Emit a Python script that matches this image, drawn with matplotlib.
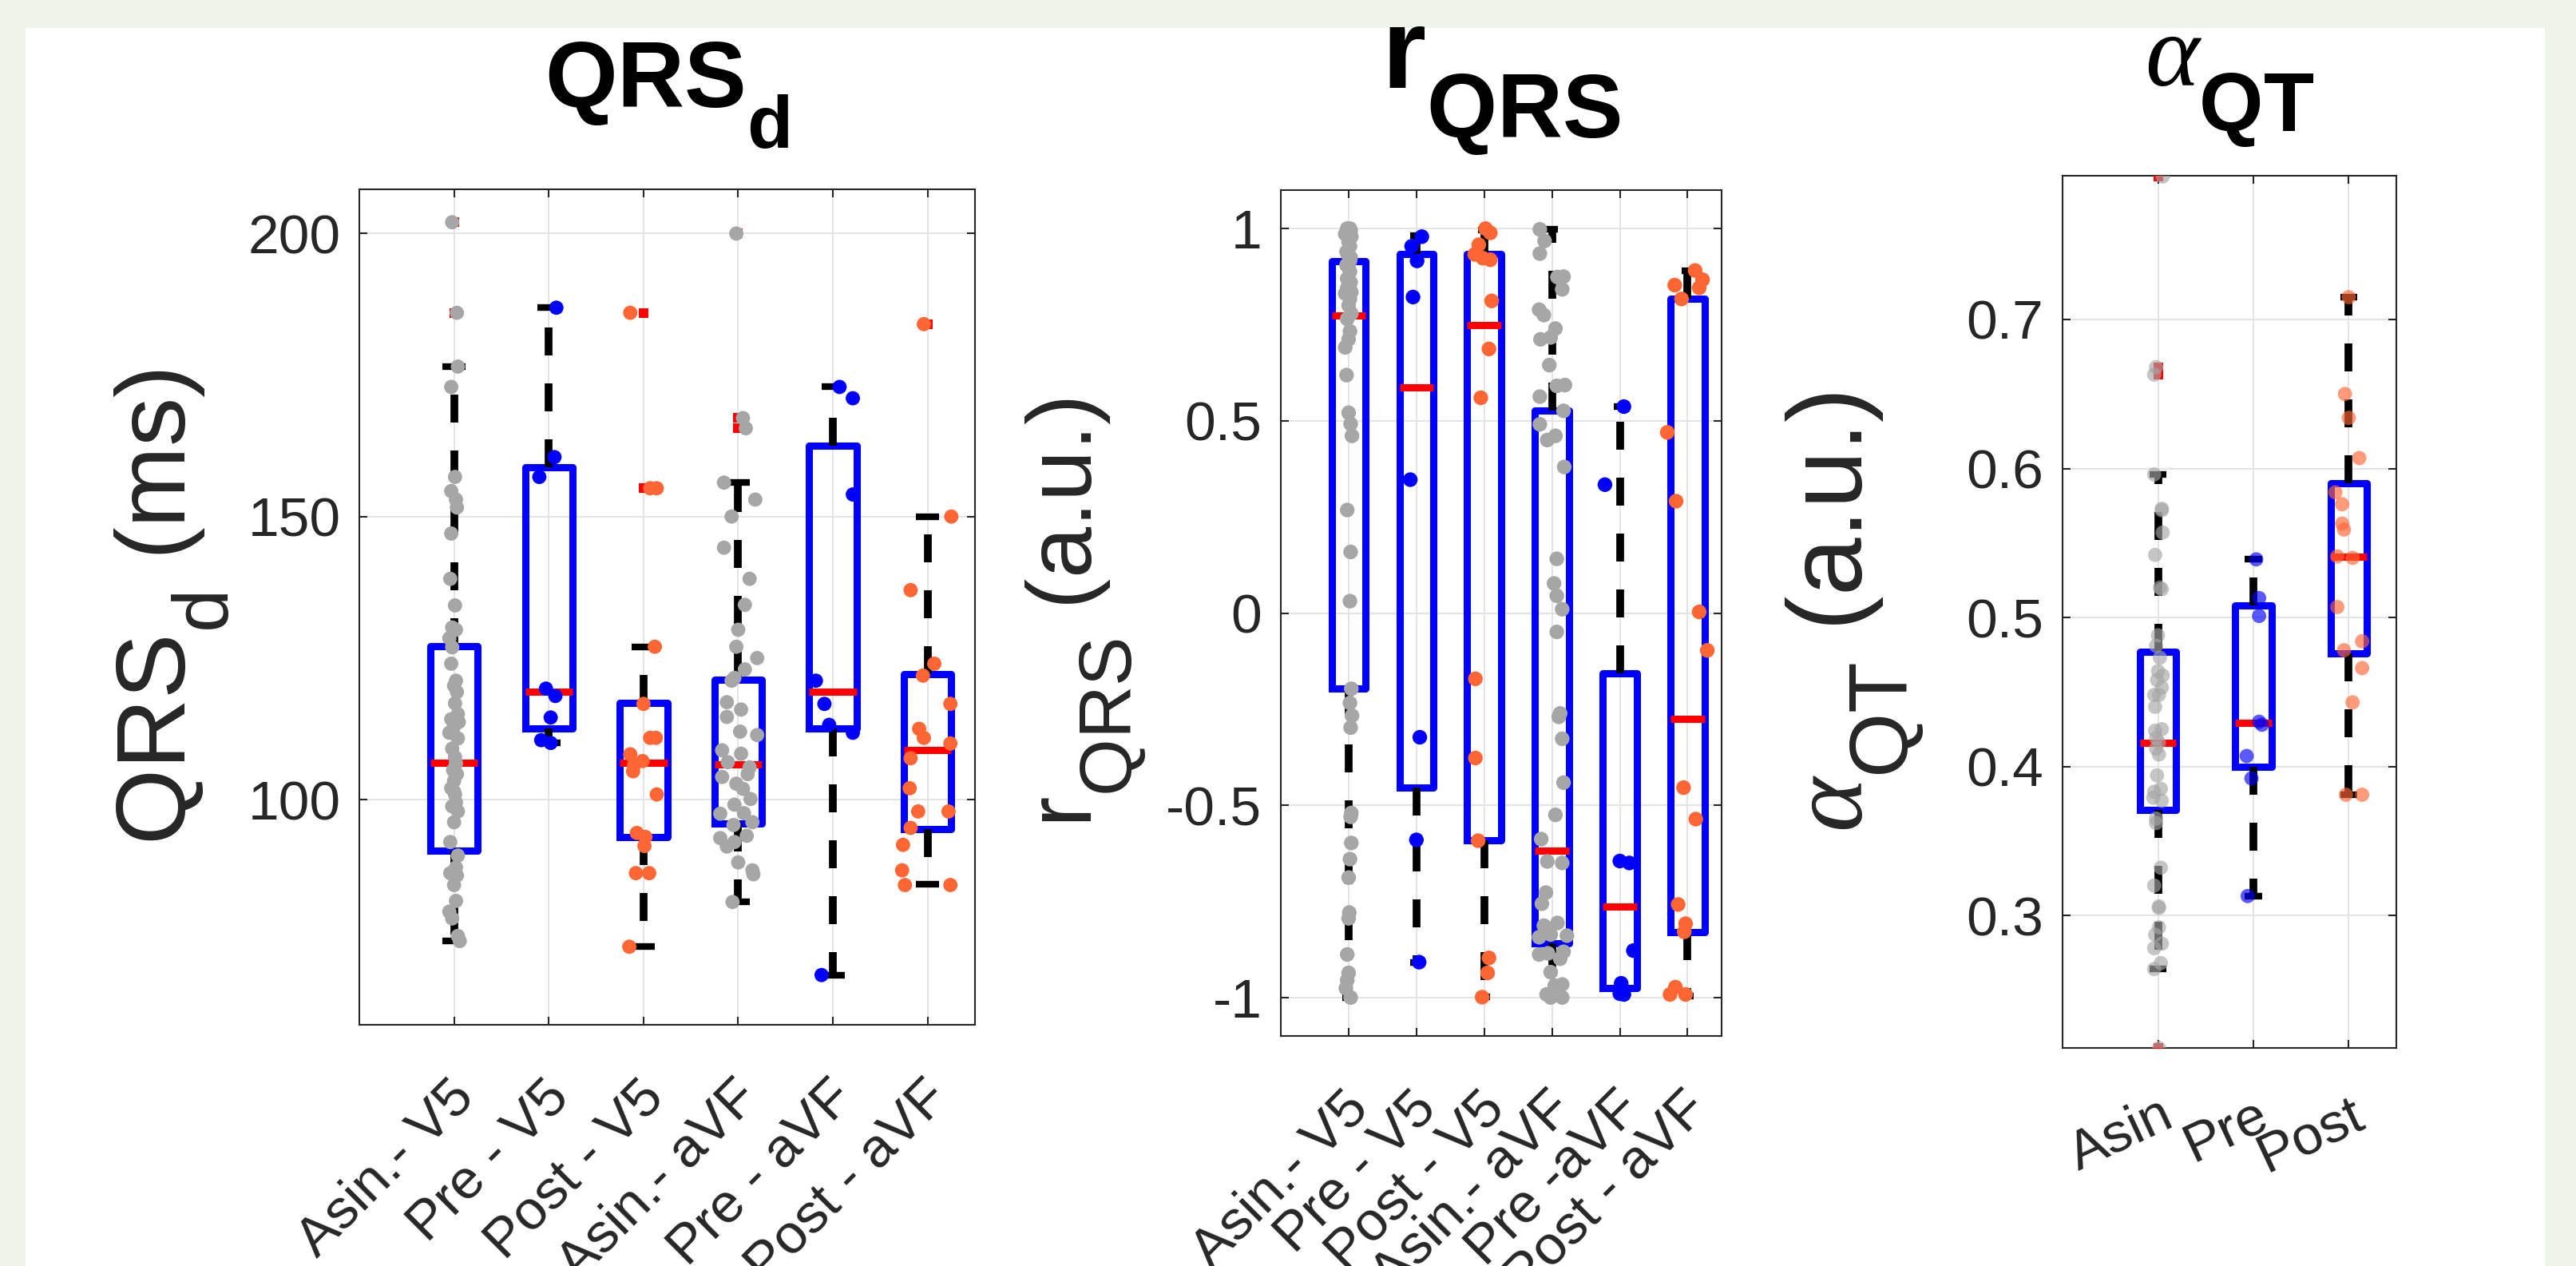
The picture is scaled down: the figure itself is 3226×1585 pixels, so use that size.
import matplotlib
matplotlib.use('Agg')
import matplotlib.pyplot as plt
import matplotlib._mathtext as mtext
from matplotlib.patches import Rectangle
from matplotlib.transforms import ScaledTranslation

plt.rcParams['font.family'] = ['Liberation Sans', 'DejaVu Sans']
plt.rcParams['mathtext.fontset'] = 'custom'
plt.rcParams['mathtext.rm'] = 'Liberation Sans'
plt.rcParams['mathtext.bf'] = 'Liberation Sans:bold'
plt.rcParams['mathtext.it'] = 'Liberation Serif:italic'
plt.rcParams['axes.unicode_minus'] = False
# subindices como los de MATLAB: mas grandes y mas bajos
mtext.SHRINK_FACTOR = 0.8
mtext.FontConstantsBase.sub1 = 0.95

GRIS = '#a6a6a6'
AZUL = '#0000ff'
NARANJA = '#ff6633'
EJES = '#262626'

# ---------------- QRSd (ms) ----------------
qrs_etiq = ['Asin.- V5', 'Pre - V5', 'Post - V5', 'Asin.- aVF', 'Pre - aVF', 'Post - aVF']
qrs_col = [GRIS, AZUL, NARANJA, GRIS, AZUL, NARANJA]
qrs_q1 = [91.0, 112.5, 93.4, 95.8, 112.5, 94.8]
qrs_med = [106.5, 119.0, 106.5, 106.2, 119.0, 108.7]
qrs_q3 = [127.1, 158.7, 117.1, 121.2, 162.5, 122.2]
qrs_wlo = [75.0, 110.0, 74.0, 81.9, 69.0, 85.0]
qrs_whi = [176.5, 186.9, 127.0, 156.0, 172.9, 150.0]
qrs_atip = [[202.0, 186.0], [], [186.0, 155.0, 155.0], [200.0, 167.4, 165.6], [], [184.0]]
qrs_vals = [
    [202.0, 186.0, 176.5, 172.9, 157.0, 154.5, 153.0, 151.6, 147.0, 139.0,
     134.3, 130.4, 130.0, 128.5, 126.9, 124.0, 121.0, 120.1, 117.0, 115.1,
     114.2, 113.7, 111.8, 110.8, 109.0, 107.5, 106.4, 105.2, 103.3, 101.4,
     100.9, 98.8, 97.9, 96.0, 92.5, 90.1, 88.0, 87.0, 86.6, 84.9,
     82.1, 80.2, 79.0, 75.9, 75.0, 119.0, 112.5, 104.5, 102.0, 99.5],
    [186.9, 160.5, 157.0, 119.6, 118.3, 114.5, 110.5, 110.0],
    [186.0, 155.0, 155.0, 127.0, 116.9, 110.9, 110.9, 108.0, 106.8, 106.1,
     105.0, 100.9, 94.1, 93.4, 91.8, 87.0, 87.0, 74.0],
    [200.0, 167.4, 165.6, 156.0, 153.0, 150.0, 144.5, 139.0, 134.4, 130.0,
     127.0, 125.0, 123.0, 121.5, 121.0, 117.2, 115.9, 114.6, 112.0, 111.4,
     108.7, 108.1, 106.6, 105.7, 104.5, 104.0, 102.8, 101.9, 100.1, 99.1,
     97.5, 97.6, 96.0, 95.5, 93.6, 93.2, 92.5, 91.7, 88.9, 87.5,
     86.8, 81.9],
    [172.9, 170.9, 153.9, 121.0, 116.9, 113.2, 111.8, 69.0],
    [184.0, 150.0, 137.0, 124.0, 121.9, 116.9, 112.5, 110.9, 109.9, 107.3,
     102.0, 97.9, 97.9, 95.0, 92.0, 87.5, 84.9, 84.9],
]
qrs_dx = [
    [-0.02, 0.03, 0.04, -0.03, 0.01, -0.03, 0.02, 0.03, -0.03, -0.04,
     0.01, -0.02, 0.02, -0.05, -0.02, -0.03, 0.02, 0.0, 0.01, 0.04,
     -0.03, 0.05, -0.05, 0.04, -0.02, 0.01, 0.02, -0.01, 0.0, 0.0,
     0.01, -0.02, 0.04, 0.0, -0.04, 0.04, 0.02, -0.04, 0.03, 0.0,
     0.02, -0.05, -0.02, 0.04, 0.06, 0.03, -0.01, 0.03, -0.03, 0.02],
    [0.08, 0.06, -0.10, -0.03, 0.07, 0.02, -0.08, 0.02],
    [-0.14, 0.07, 0.14, 0.12, 0.0, 0.07, 0.13, -0.14, -0.01, -0.10,
     -0.11, 0.14, -0.07, 0.02, 0.01, -0.08, 0.06, -0.15],
    [-0.02, 0.05, 0.08, -0.15, 0.18, -0.07, -0.15, 0.12, 0.07, 0.0,
     -0.02, 0.20, 0.07, -0.04, -0.07, -0.12, 0.03, -0.12, 0.02, 0.20,
     -0.17, 0.03, -0.11, 0.12, 0.10, -0.17, -0.02, 0.05, 0.13, -0.04,
     -0.19, 0.06, 0.15, -0.05, 0.09, -0.19, -0.04, -0.12, 0.0, 0.15,
     0.16, -0.06],
    [0.07, 0.21, 0.21, -0.18, -0.09, -0.04, 0.21, -0.12],
    [-0.04, 0.25, -0.18, 0.07, -0.05, 0.24, -0.09, -0.04, 0.24, -0.18,
     -0.19, -0.10, 0.22, -0.18, -0.26, -0.27, -0.24, 0.24],
]

# ---------------- rQRS (a.u.) ----------------
r_etiq = ['Asin.- V5', 'Pre - V5', 'Post - V5', 'Asin.- aVF', 'Pre -aVF', 'Post - aVF']
r_col = [GRIS, AZUL, NARANJA, GRIS, AZUL, NARANJA]
r_q1 = [-0.197, -0.453, -0.590, -0.860, -0.976, -0.829]
r_med = [0.775, 0.586, 0.749, -0.617, -0.764, -0.275]
r_q3 = [0.916, 0.933, 0.933, 0.526, -0.156, 0.817]
r_wlo = [-1.0, -0.908, -0.999, -1.0, -0.992, -0.996]
r_whi = [1.0, 0.982, 0.996, 0.998, 0.537, 0.891]
r_atip = [[], [], [], [], [], []]
r_vals = [
    [1.0, 1.0, 0.986, 0.979, 0.965, 0.954, 0.933, 0.916, 0.898, 0.888,
     0.870, 0.856, 0.831, 0.835, 0.817, 0.779, 0.765, 0.733, 0.712, 0.691,
     0.619, 0.521, 0.492, 0.461, 0.268, 0.159, 0.031, -0.197, -0.234, -0.267,
     -0.298, -0.520, -0.530, -0.598, -0.640, -0.688, -0.779, -0.794, -0.888, -0.936,
     -0.955, -0.976, -1.0, 0.995, 0.990, 0.975, 0.940, 0.925, 0.905, 0.860,
     0.845, 0.800],
    [0.979, 0.954, 0.916, 0.822, 0.347, -0.323, -0.590, -0.908],
    [1.0, 0.989, 0.958, 0.933, 0.923, 0.919, 0.812, 0.687, 0.560, -0.171,
     -0.377, -0.592, -0.897, -0.936, -0.999],
    [0.998, 0.968, 0.935, 0.874, 0.875, 0.842, 0.789, 0.775, 0.740, 0.712,
     0.717, 0.645, 0.591, 0.593, 0.563, 0.526, 0.491, 0.450, 0.461, 0.380,
     0.141, 0.077, 0.045, 0.010, -0.049, -0.261, -0.270, -0.327, -0.441, -0.525,
     -0.588, -0.646, -0.650, -0.727, -0.756, -0.806, -0.813, -0.836, -0.839, -0.843,
     -0.881, -0.885, -0.888, -0.899, -0.934, -0.966, -0.969, -0.992, -1.0, -1.0],
    [0.537, 0.334, -0.645, -0.650, -0.878, -0.963, -0.990, -0.992],
    [0.891, 0.867, 0.846, 0.853, 0.817, 0.470, 0.291, 0.003, -0.097, -0.454,
     -0.536, -0.758, -0.808, -0.829, -0.973, -0.992, -0.992],
]
r_dx = [
    [-0.02, 0.02, -0.05, 0.04, 0.0, 0.02, -0.01, 0.02, 0.0, 0.02,
     -0.02, 0.0, -0.05, 0.04, 0.02, 0.04, -0.02, 0.02, 0.0, -0.05,
     -0.03, 0.0, 0.03, 0.05, -0.02, 0.03, 0.02, 0.04, 0.02, 0.05,
     0.03, 0.04, 0.03, 0.04, 0.02, 0.0, 0.01, 0.0, -0.02, 0.0,
     -0.02, -0.04, 0.03, 0.03, -0.03, 0.01, -0.03, 0.03, -0.03, 0.03,
     -0.02, 0.0],
    [0.08, -0.07, 0.01, -0.05, -0.09, 0.05, 0.0, 0.04],
    [0.02, 0.09, -0.08, -0.14, -0.02, 0.09, 0.11, 0.07, -0.05, -0.13,
     -0.13, -0.09, 0.07, 0.05, -0.03],
    [-0.18, -0.11, -0.18, 0.08, 0.17, 0.15, -0.19, -0.12, 0.05, -0.17,
     -0.02, -0.04, 0.07, 0.19, -0.18, 0.17, -0.18, -0.07, 0.05, 0.18,
     0.07, 0.03, 0.07, 0.15, 0.07, 0.12, 0.10, 0.15, 0.17, 0.05,
     -0.16, -0.07, 0.15, -0.09, -0.15, 0.08, -0.12, -0.02, 0.22, -0.19,
     0.17, -0.06, -0.19, 0.12, -0.02, 0.15, 0.04, -0.08, 0.15, -0.02],
    [0.06, -0.22, 0.0, 0.14, 0.20, 0.02, 0.0, 0.06],
    [0.11, 0.22, 0.17, -0.19, -0.09, -0.30, -0.17, 0.17, 0.29, -0.06,
     0.12, -0.14, -0.03, -0.05, -0.18, -0.26, -0.03],
]

# ---------------- alphaQT (a.u.) ----------------
a_etiq = ['Asin', 'Pre', 'Post']
a_col = [GRIS, AZUL, NARANJA]
a_q1 = [0.371, 0.400, 0.476]
a_med = [0.416, 0.429, 0.541]
a_q3 = [0.477, 0.508, 0.590]
a_wlo = [0.264, 0.313, 0.381]
a_whi = [0.596, 0.539, 0.715]
a_atip = [[0.796, 0.668, 0.663, 0.211], [], []]
a_vals = [
    [0.796, 0.668, 0.663, 0.596, 0.573, 0.572, 0.557, 0.542, 0.520, 0.519,
     0.488, 0.481, 0.473, 0.464, 0.461, 0.458, 0.453, 0.448, 0.448, 0.440,
     0.425, 0.424, 0.419, 0.416, 0.412, 0.408, 0.394, 0.385, 0.383, 0.379,
     0.377, 0.365, 0.362, 0.332, 0.320, 0.306, 0.305, 0.292, 0.287, 0.281,
     0.278, 0.268, 0.264, 0.211],
    [0.539, 0.513, 0.501, 0.430, 0.428, 0.407, 0.392, 0.313],
    [0.715, 0.650, 0.634, 0.607, 0.584, 0.576, 0.563, 0.559, 0.541, 0.540,
     0.507, 0.484, 0.478, 0.466, 0.443, 0.381, 0.381],
]
a_dx = [
    [0.05, -0.02, -0.04, -0.04, 0.04, 0.04, 0.05, -0.03, 0.02, 0.04,
     0.0, -0.02, 0.02, 0.0, 0.05, -0.01, 0.04, -0.04, 0.01, -0.03,
     0.04, -0.03, -0.02, 0.01, -0.02, 0.01, -0.01, 0.03, -0.04, -0.05,
     0.04, -0.02, -0.02, 0.03, -0.04, 0.01, 0.01, 0.01, -0.03, 0.04,
     -0.04, 0.03, -0.04, 0.01],
    [0.03, 0.06, 0.06, 0.06, 0.09, -0.07, -0.02, -0.06],
    [0.0, -0.04, 0.0, 0.11, -0.14, -0.07, -0.07, -0.05, -0.12, 0.04,
     -0.12, 0.14, -0.05, 0.14, 0.04, -0.03, 0.14],
]


def dibujar_panel(ax, valores, desplaz, colores, q1, med, q3, wlo, whi, atipicos,
                  ancho, ancho_tope, tam, alfa):
    pos = list(range(1, len(q1) + 1))
    stats = [dict(q1=a, med=m, q3=b, whislo=lo, whishi=hi)
             for a, m, b, lo, hi in zip(q1, med, q3, wlo, whi)]
    ax.bxp(stats, positions=pos, widths=ancho, capwidths=ancho_tope, showfliers=False,
           boxprops=dict(color=AZUL, linewidth=6.5),
           medianprops=dict(color='red', linewidth=6.5, solid_capstyle='butt'),
           whiskerprops=dict(color='k', linewidth=7, linestyle=(0, (3.6, 3.6))),
           capprops=dict(color='k', linewidth=6, solid_capstyle='butt'))
    for p, atip in zip(pos, atipicos):
        ax.plot([p] * len(atip), atip, 's', color='red', ms=8, mew=0, zorder=3)
    for p, v, d, c in zip(pos, valores, desplaz, colores):
        ax.scatter([p + e for e in d], v, s=tam, color=c, edgecolors='none',
                   alpha=alfa, zorder=4)
    ax.grid(True, color='#e2e2e2', linewidth=1.3)
    ax.set_axisbelow(True)
    for s in ax.spines.values():
        s.set_color(EJES)
        s.set_linewidth(1.5)
    ax.tick_params(direction='in', length=7, width=1.5, top=True, right=True,
                   labelsize=50, colors=EJES)
    ax.tick_params(axis='y', pad=17)
    ax.tick_params(axis='x', pad=58)


fig = plt.figure(figsize=(32.26, 15.85), dpi=100)
fig.patch.set_facecolor('#eef4ea')
fig.add_artist(Rectangle((32 / 3226, 0), (3187 - 32) / 3226, 1 - 35 / 1585,
                         transform=fig.transFigure, facecolor='white',
                         edgecolor='none', zorder=0))

# panel 1
ax1 = fig.add_axes([0.1395, 0.1905, 0.2390, 0.6599])
dibujar_panel(ax1, qrs_vals, qrs_dx, qrs_col, qrs_q1, qrs_med, qrs_q3, qrs_wlo,
              qrs_whi, qrs_atip, 0.5, 0.245, 165, 1.0)
ax1.set_xlim(0, 6.5)
ax1.set_ylim(60.2, 207.8)
ax1.set_yticks([100, 150, 200], ['100', '150', '200'])
ax1.set_xticks(range(1, 7), qrs_etiq)
ax1.set_title(r'$\mathbf{QRS}_{\mathbf{d}}$', fontsize=84, pad=74)
ax1.set_ylabel(r'$\mathrm{QRS}_{\mathrm{d}}$ (ms)', fontsize=88, color=EJES)
ax1.yaxis.set_label_coords(-0.2075, 0.5)

# panel 2
ax2 = fig.add_axes([0.4972, 0.1817, 0.1711, 0.6681])
dibujar_panel(ax2, r_vals, r_dx, r_col, r_q1, r_med, r_q3, r_wlo, r_whi, r_atip,
              0.5, 0.18, 175, 1.0)
ax2.set_xlim(0, 6.5)
ax2.set_ylim(-1.1, 1.1)
ax2.set_yticks([-1, -0.5, 0, 0.5, 1], ['-1', '-0.5', '0', '0.5', '1'])
ax2.set_xticks(range(1, 7), r_etiq)
ax2.set_title(r'$\mathbf{r}_{\mathbf{QRS}}$', fontsize=102, pad=92)
ax2.set_ylabel(r'$\mathrm{r}_{\mathrm{QRS}}$ (a.u.)', fontsize=83, color=EJES)
ax2.yaxis.set_label_coords(-0.3007, 0.5)

# panel 3
ax3 = fig.add_axes([0.8007, 0.1722, 0.1296, 0.6890])
dibujar_panel(ax3, a_vals, a_dx, a_col, a_q1, a_med, a_q3, a_wlo, a_whi, a_atip,
              0.38, 0.18, 165, 0.65)
ax3.set_xlim(0, 3.5)
ax3.set_ylim(0.211, 0.7965)
ax3.set_yticks([0.3, 0.4, 0.5, 0.6, 0.7], ['0.3', '0.4', '0.5', '0.6', '0.7'])
ax3.set_xticks(range(1, 4), a_etiq)
ax3.set_title(r'$\alpha_{\mathbf{QT}}$', fontsize=93, pad=81)
ax3.set_ylabel(r'$\alpha_{\mathrm{QT}}$ (a.u.)', fontsize=94, color=EJES)
ax3.yaxis.set_label_coords(-0.409, 0.5)

# etiquetas giradas, ancladas por su extremo derecho y algo corridas a la derecha
corrimiento = ScaledTranslation(0.15, 0, fig.dpi_scale_trans)
for ax, rot in ((ax1, 45), (ax2, 45), (ax3, 25)):
    for lab in ax.get_xticklabels():
        lab.set(rotation=rot, ha='right', va='center', rotation_mode='anchor')
        lab.set_transform(lab.get_transform() + corrimiento)

fig.savefig('out.png', dpi=100, facecolor=fig.get_facecolor())
